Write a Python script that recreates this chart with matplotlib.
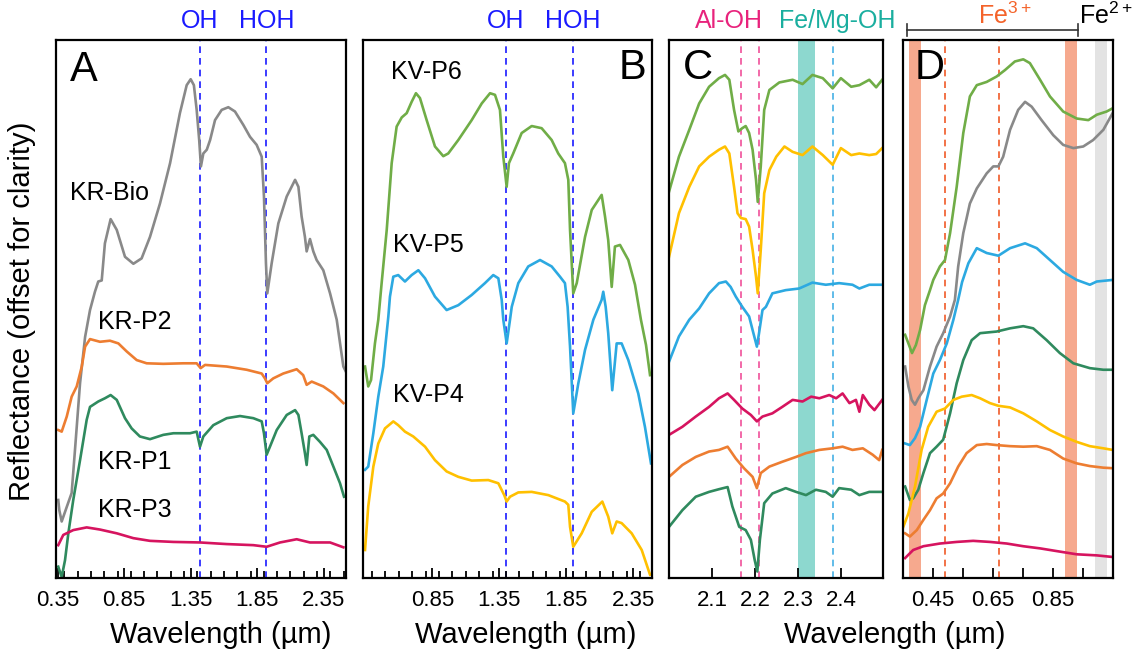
import numpy as np
import matplotlib
matplotlib.use("Agg")
import matplotlib.pyplot as plt
from matplotlib.ticker import MultipleLocator

plt.rcParams['font.family'] = ['Liberation Sans', 'DejaVu Sans']
plt.rcParams['mathtext.fontset'] = 'custom'
plt.rcParams['mathtext.rm'] = 'Liberation Sans'

# ---------------- panel A (VNIR-SWIR, KR samples) ----------------
bio_x = [0.354, 0.362, 0.380, 0.418, 0.455, 0.480, 0.518, 0.556, 0.593, 0.630, 0.655, 0.681, 0.705, 0.748,
         0.794, 0.856, 0.919, 0.981, 1.044, 1.119, 1.195, 1.269, 1.320, 1.350, 1.374, 1.395, 1.414, 1.427,
         1.445, 1.471, 1.496, 1.533, 1.583, 1.633, 1.683, 1.746, 1.796, 1.846, 1.884, 1.901, 1.916, 1.926,
         1.959, 2.009, 2.072, 2.135, 2.160, 2.184, 2.209, 2.222, 2.247, 2.272, 2.297, 2.347, 2.398, 2.448,
         2.498, 2.518]
bio_y = [14.5, 12.6, 10.5, 13.2, 15.8, 23.8, 36.2, 44.8, 49.8, 53.2, 55.1, 55.3, 62.2, 66.7,
         64.7, 59.7, 58.4, 59.4, 63.4, 69.6, 77.1, 86.4, 91.6, 92.7, 91.6, 87.0, 81.4, 76.5,
         78.9, 79.6, 81.4, 85.1, 87.0, 87.5, 86.7, 84.2, 82.0, 80.5, 78.3, 70.9, 58.5, 52.9,
         58.5, 65.9, 70.9, 74.0, 72.7, 67.2, 63.4, 60.7, 63.0, 60.7, 59.1, 57.2, 52.9, 48.0,
         39.3, 38.3]

p2_x = [0.354, 0.380, 0.418, 0.455, 0.493, 0.531, 0.556, 0.593, 0.668, 0.743, 0.806, 0.869, 0.944, 1.019,
        1.144, 1.294, 1.395, 1.425, 1.458, 1.621, 1.771, 1.884, 1.908, 1.926, 1.971, 2.046, 2.147, 2.196,
        2.222, 2.260, 2.347, 2.423, 2.498]
p2_y = [27.5, 27.2, 30.0, 33.7, 35.6, 39.3, 43.0, 44.4, 43.9, 44.1, 43.6, 42.1, 40.5, 39.9,
        39.8, 39.9, 39.9, 39.0, 39.6, 39.3, 38.7, 38.0, 37.1, 36.2, 37.1, 38.0, 38.8, 37.7,
        35.9, 36.5, 35.6, 34.3, 32.5]

p1_x = [0.354, 0.380, 0.405, 0.430, 0.467, 0.518, 0.568, 0.593, 0.655, 0.705, 0.748, 0.794, 0.856, 0.906,
        0.968, 1.044, 1.144, 1.220, 1.345, 1.395, 1.420, 1.445, 1.520, 1.621, 1.721, 1.821, 1.884, 1.901,
        1.921, 1.946, 1.997, 2.072, 2.135, 2.160, 2.184, 2.209, 2.222, 2.242, 2.272, 2.322, 2.373, 2.423,
        2.473, 2.503]
p1_y = [2.1, 0.2, 3.3, 8.3, 14.5, 21.9, 29.4, 31.8, 32.8, 33.4, 34.0, 33.1, 29.7, 27.8,
        26.3, 25.8, 26.6, 26.9, 26.9, 27.2, 24.4, 26.3, 28.4, 29.7, 30.1, 29.7, 29.1, 26.9,
        22.9, 24.4, 27.5, 30.3, 31.2, 30.3, 26.9, 23.2, 21.0, 26.3, 26.6, 25.3, 23.8, 20.7,
        17.6, 15.1]

p3_x = [0.354, 0.392, 0.467, 0.568, 0.668, 0.794, 0.919, 1.044, 1.220, 1.420, 1.621, 1.821, 1.921, 2.022,
        2.147, 2.247, 2.398, 2.498]
p3_y = [6.1, 8.0, 8.9, 9.4, 9.0, 8.3, 7.4, 6.9, 6.7, 6.6, 6.3, 6.1, 5.8, 6.6,
        7.2, 6.6, 6.6, 5.7]

# ---------------- panel B (KV samples) ----------------
p6_x = [0.348, 0.372, 0.393, 0.422, 0.447, 0.472, 0.510, 0.547, 0.584, 0.622, 0.659, 0.696, 0.728, 0.758,
        0.808, 0.870, 0.932, 0.969, 1.044, 1.144, 1.219, 1.281, 1.318, 1.355, 1.380, 1.405, 1.422, 1.454,
        1.517, 1.592, 1.666, 1.741, 1.790, 1.840, 1.865, 1.878, 1.902, 1.928, 1.990, 2.040, 2.114, 2.139,
        2.163, 2.189, 2.213, 2.251, 2.313, 2.363, 2.407, 2.445, 2.475]
p6_y = [39.3, 35.6, 36.8, 43.6, 48.0, 54.8, 64.7, 77.1, 83.9, 85.6, 86.4, 88.5, 90.1, 89.2,
        85.1, 80.2, 78.4, 78.9, 81.4, 85.1, 88.2, 90.1, 89.8, 87.0, 78.3, 72.7, 77.1, 78.9,
        82.7, 84.0, 83.6, 81.4, 78.9, 77.1, 74.0, 64.7, 52.9, 54.8, 63.4, 68.4, 71.2, 67.2,
        62.8, 54.1, 61.6, 61.9, 59.1, 54.5, 48.0, 43.3, 37.7]

p5_x = [0.348, 0.372, 0.410, 0.447, 0.484, 0.522, 0.534, 0.559, 0.596, 0.646, 0.696, 0.746, 0.796, 0.870,
        0.957, 1.044, 1.144, 1.243, 1.305, 1.343, 1.368, 1.380, 1.405, 1.430, 1.443, 1.492, 1.566, 1.654,
        1.741, 1.803, 1.840, 1.860, 1.878, 1.902, 1.940, 1.990, 2.052, 2.114, 2.126, 2.144, 2.163, 2.193,
        2.226, 2.263, 2.313, 2.387, 2.437, 2.482]
p5_y = [20.1, 20.7, 26.9, 33.7, 39.3, 48.6, 52.3, 56.0, 56.3, 55.1, 56.3, 57.2, 55.7, 52.3,
        49.8, 50.7, 52.6, 54.8, 56.3, 55.7, 51.7, 48.0, 43.6, 48.0, 50.4, 54.8, 57.9, 59.1,
        57.9, 56.0, 54.8, 50.4, 43.0, 30.6, 36.2, 42.4, 48.0, 51.7, 53.2, 50.4, 45.5, 34.9,
        43.6, 43.6, 40.5, 34.3, 28.1, 21.3]

p4_x = [0.348, 0.372, 0.410, 0.447, 0.497, 0.559, 0.596, 0.646, 0.708, 0.796, 0.870, 0.957, 1.044, 1.144,
        1.268, 1.343, 1.387, 1.405, 1.430, 1.492, 1.592, 1.716, 1.840, 1.865, 1.878, 1.902, 1.965, 2.040,
        2.119, 2.163, 2.193, 2.226, 2.263, 2.338, 2.413, 2.475]
p4_y = [5.2, 13.3, 20.7, 25.0, 27.8, 29.1, 28.4, 27.2, 26.3, 24.4, 21.9, 19.8, 18.8, 18.1,
        18.2, 17.6, 15.4, 14.2, 15.1, 15.9, 16.0, 15.4, 14.2, 13.6, 9.5, 5.8, 8.3, 12.3,
        14.2, 11.4, 8.3, 10.5, 10.2, 8.3, 5.2, 0.6]

# ---------------- panel C (2.0-2.5 um) ----------------
c_p6_x = [2.000, 2.023, 2.047, 2.070, 2.093, 2.116, 2.130, 2.140, 2.151, 2.161, 2.170, 2.178, 2.186, 2.194,
          2.202, 2.206, 2.213, 2.221, 2.233, 2.256, 2.287, 2.310, 2.333, 2.357, 2.380, 2.399, 2.423, 2.442,
          2.465, 2.481, 2.495]
c_p6_y = [71.8, 78.3, 83.3, 88.2, 91.3, 92.9, 93.5, 92.6, 87.0, 83.0, 83.6, 84.0, 82.7, 79.6,
          74.0, 69.9, 76.5, 87.0, 90.7, 92.1, 92.6, 91.8, 93.5, 92.9, 91.0, 92.9, 91.3, 91.6,
          92.6, 91.2, 92.6]

c_p4_x = [2.000, 2.023, 2.047, 2.070, 2.093, 2.116, 2.130, 2.140, 2.151, 2.159, 2.167, 2.178, 2.186, 2.194,
          2.202, 2.206, 2.213, 2.221, 2.233, 2.249, 2.268, 2.287, 2.310, 2.333, 2.357, 2.380, 2.399, 2.423,
          2.442, 2.465, 2.481, 2.495]
c_p4_y = [59.7, 67.8, 72.7, 76.5, 78.3, 79.6, 80.2, 78.9, 72.7, 67.8, 66.9, 66.7, 65.3, 61.0,
          56.0, 52.9, 61.0, 71.5, 75.8, 78.3, 80.2, 79.2, 78.6, 80.2, 78.6, 76.8, 79.9, 78.6,
          78.9, 78.6, 78.8, 79.9]

c_p5_x = [2.000, 2.023, 2.047, 2.070, 2.093, 2.116, 2.132, 2.143, 2.155, 2.170, 2.186, 2.194, 2.204, 2.209,
          2.217, 2.225, 2.240, 2.271, 2.302, 2.333, 2.364, 2.395, 2.426, 2.442, 2.465, 2.495]
c_p5_y = [40.2, 44.9, 48.0, 50.1, 52.9, 54.8, 55.1, 54.1, 52.3, 50.4, 48.6, 46.1, 43.0, 45.5,
          49.8, 50.4, 52.9, 53.5, 53.8, 54.9, 54.5, 54.8, 54.5, 53.8, 54.5, 54.5]

c_p3_x = [2.000, 2.031, 2.062, 2.093, 2.116, 2.136, 2.151, 2.170, 2.190, 2.204, 2.217, 2.240, 2.263, 2.287,
          2.310, 2.330, 2.349, 2.372, 2.388, 2.403, 2.419, 2.434, 2.442, 2.450, 2.465, 2.477, 2.495]
c_p3_y = [26.6, 28.1, 30.0, 31.8, 33.4, 34.3, 33.1, 31.5, 30.3, 29.1, 30.0, 30.6, 31.8, 33.1,
          32.8, 33.7, 33.4, 34.0, 33.4, 34.3, 32.5, 33.1, 30.9, 34.0, 32.2, 31.2, 33.1]

c_p2_x = [2.000, 2.031, 2.062, 2.093, 2.116, 2.136, 2.155, 2.174, 2.194, 2.204, 2.213, 2.233, 2.263, 2.295,
          2.318, 2.349, 2.380, 2.403, 2.426, 2.450, 2.473, 2.488, 2.495]
c_p2_y = [18.8, 21.0, 22.5, 23.5, 23.8, 24.4, 22.2, 20.4, 18.8, 16.7, 19.5, 20.7, 21.6, 22.5,
          23.2, 23.8, 24.1, 24.4, 23.8, 24.1, 22.9, 21.9, 23.8]

c_p1_x = [2.000, 2.031, 2.062, 2.093, 2.116, 2.136, 2.147, 2.163, 2.178, 2.190, 2.199, 2.205, 2.211, 2.221,
          2.240, 2.271, 2.295, 2.318, 2.341, 2.364, 2.380, 2.395, 2.423, 2.442, 2.465, 2.495]
c_p1_y = [9.5, 12.6, 15.1, 16.0, 16.5, 16.9, 13.3, 9.5, 8.9, 7.1, 3.3, 1.2, 7.1, 13.9,
          15.7, 16.7, 16.0, 15.4, 16.4, 16.0, 15.1, 16.7, 16.4, 15.4, 16.0, 16.0]

# ---------------- panel D (0.35-1.05 um) ----------------
d_p6_x = [0.357, 0.370, 0.380, 0.393, 0.407, 0.423, 0.440, 0.451, 0.473, 0.490, 0.507, 0.529, 0.551, 0.573,
          0.596, 0.629, 0.662, 0.690, 0.723, 0.751, 0.773, 0.807, 0.840, 0.884, 0.929, 0.968, 0.996, 1.029,
          1.049]
d_p6_y = [45.2, 43.3, 41.8, 43.3, 46.1, 50.7, 53.5, 55.4, 57.9, 59.1, 64.1, 72.7, 82.7, 89.5,
          91.6, 92.2, 93.2, 94.4, 96.0, 96.4, 95.7, 92.6, 89.5, 86.7, 85.4, 85.1, 86.1, 86.7,
          87.3]

d_bio_x = [0.357, 0.368, 0.379, 0.390, 0.401, 0.418, 0.440, 0.462, 0.484, 0.507, 0.523, 0.534, 0.551, 0.573,
           0.596, 0.629, 0.651, 0.668, 0.684, 0.707, 0.734, 0.757, 0.779, 0.812, 0.851, 0.884, 0.918, 0.951,
           0.984, 1.018, 1.049]
d_bio_y = [39.3, 35.6, 33.1, 32.2, 33.4, 34.9, 39.3, 43.0, 45.5, 48.6, 51.7, 57.9, 64.1, 69.6,
           72.4, 75.2, 76.5, 76.5, 78.3, 83.3, 87.0, 88.5, 87.6, 85.1, 82.3, 80.5, 79.9, 80.2,
           81.4, 83.3, 86.4]

d_p5_x = [0.357, 0.373, 0.390, 0.407, 0.429, 0.451, 0.473, 0.496, 0.518, 0.534, 0.547, 0.568, 0.596, 0.629,
          0.668, 0.707, 0.757, 0.796, 0.840, 0.884, 0.929, 0.973, 0.996, 1.049]
d_p5_y = [25.0, 24.7, 26.0, 28.1, 33.1, 38.0, 40.5, 43.6, 48.0, 51.7, 55.0, 58.5, 61.3, 60.4,
          59.9, 61.3, 62.2, 61.3, 59.1, 56.9, 55.4, 54.5, 55.1, 55.4]

d_p1_x = [0.357, 0.373, 0.384, 0.401, 0.418, 0.440, 0.462, 0.484, 0.507, 0.529, 0.551, 0.579, 0.607, 0.662,
          0.707, 0.751, 0.784, 0.829, 0.873, 0.918, 0.973, 1.018, 1.049]
d_p1_y = [17.0, 14.5, 14.8, 16.4, 19.5, 23.2, 24.4, 25.7, 30.6, 36.2, 40.5, 44.2, 45.5, 45.8,
          46.4, 46.8, 46.4, 44.2, 41.8, 39.9, 39.0, 38.7, 38.7]

d_p4_x = [0.351, 0.368, 0.390, 0.412, 0.434, 0.462, 0.490, 0.518, 0.546, 0.579, 0.607, 0.640, 0.668, 0.707,
          0.751, 0.796, 0.840, 0.884, 0.929, 0.973, 1.018, 1.049]
d_p4_y = [9.5, 12.0, 17.0, 23.8, 28.1, 30.9, 31.5, 33.1, 33.7, 34.0, 33.4, 32.5, 32.0, 31.7,
          30.6, 29.1, 27.5, 26.3, 25.3, 24.5, 24.1, 23.8]

d_p2_x = [0.357, 0.373, 0.396, 0.418, 0.440, 0.462, 0.484, 0.507, 0.534, 0.562, 0.596, 0.629, 0.662, 0.707,
          0.751, 0.796, 0.840, 0.884, 0.929, 0.973, 1.018, 1.049]
d_p2_y = [8.3, 7.7, 8.9, 10.8, 12.6, 14.8, 15.7, 17.6, 20.7, 23.2, 24.7, 24.9, 24.7, 24.5,
          24.4, 24.5, 23.8, 22.2, 21.3, 20.8, 20.5, 20.4]

d_p3_x = [0.357, 0.384, 0.418, 0.473, 0.529, 0.584, 0.640, 0.696, 0.751, 0.807, 0.862, 0.929, 0.996, 1.049]
d_p3_y = [3.7, 5.2, 5.9, 6.4, 6.7, 6.9, 6.7, 6.4, 5.9, 5.5, 5.0, 4.4, 4.2, 3.9]

# colours
GRAY = '#898989'
ORANGE = '#ED7D31'
DKGREEN = '#2F8A5E'
LTGREEN = '#70AD47'
BLUE = '#2CA9E1'
YELLOW = '#FFC000'
CRIMSON = '#D6145F'
LINEBLUE = '#1A1AFF'

fig = plt.figure(figsize=(11.33, 6.55), dpi=100)
axA = fig.add_axes([0.0494, 0.1176, 0.2560, 0.8214])
axB = fig.add_axes([0.3204, 0.1176, 0.2551, 0.8214])
axC = fig.add_axes([0.5905, 0.1176, 0.1889, 0.8214])
axD = fig.add_axes([0.7970, 0.1176, 0.1853, 0.8214])


def style(ax):
    for s in ax.spines.values():
        s.set_linewidth(1.6)
    ax.set_ylim(0, 100)
    ax.set_yticks([])
    ax.tick_params(axis='x', direction='in', length=7, width=1.3, labelsize=16, pad=9, top=False)
    ax.tick_params(axis='x', which='minor', direction='in', length=5, width=1.3, top=False)


lw = 1.9
# A
axA.plot(bio_x, bio_y, color=GRAY, lw=lw)
axA.plot(p2_x, p2_y, color=ORANGE, lw=lw)
axA.plot(p1_x, p1_y, color=DKGREEN, lw=lw)
axA.plot(p3_x, p3_y, color=CRIMSON, lw=lw)
axA.set_xlim(0.337, 2.518)
axA.set_xticks([0.35, 0.85, 1.35, 1.85, 2.35])
axA.xaxis.set_minor_locator(MultipleLocator(0.1))
for xv in [1.42, 1.92]:
    axA.axvline(xv, color=LINEBLUE, ls=(0, (4, 3)), lw=1.2, zorder=0)
style(axA)
axA.text(0.048, 0.944, 'A', transform=axA.transAxes, fontsize=30, va='center', ha='left')
for lab, xv, yv in [('KR-Bio', 0.443, 71.6), ('KR-P2', 0.653, 47.6), ('KR-P1', 0.653, 21.6), ('KR-P3', 0.653, 12.6)]:
    axA.text(xv, yv, lab, fontsize=18, va='center', ha='left')

# B
axB.plot(p6_x, p6_y, color=LTGREEN, lw=lw)
axB.plot(p5_x, p5_y, color=BLUE, lw=lw)
axB.plot(p4_x, p4_y, color=YELLOW, lw=lw)
axB.set_xlim(0.333, 2.49)
axB.set_xticks([0.85, 1.35, 1.85, 2.35])
axB.xaxis.set_minor_locator(MultipleLocator(0.1))
for xv in [1.40, 1.90]:
    axB.axvline(xv, color=LINEBLUE, ls=(0, (4, 3)), lw=1.2, zorder=0)
style(axB)
axB.text(0.931, 0.948, 'B', transform=axB.transAxes, fontsize=30, va='center', ha='center')
for lab, xv, yv in [('KV-P6', 0.542, 94.1), ('KV-P5', 0.557, 61.9), ('KV-P4', 0.557, 34.0)]:
    axB.text(xv, yv, lab, fontsize=18, va='center', ha='left')

# top OH / HOH labels
for ax, xs in [(axA, [1.42, 1.92]), (axB, [1.40, 1.90])]:
    tr = ax.get_xaxis_transform()
    ax.text(xs[0], 1.036, 'OH', transform=tr, color=LINEBLUE, fontsize=18, ha='center', va='center')
    ax.text(xs[1], 1.036, 'HOH', transform=tr, color=LINEBLUE, fontsize=18, ha='center', va='center')

# C
axC.axvspan(2.299, 2.338, color='#8DD8CF', lw=0, zorder=0)
for xv in [2.166, 2.208]:
    axC.axvline(xv, color='#F0509A', ls=(0, (4, 3)), lw=1.2, zorder=0)
axC.axvline(2.380, color='#45B0E5', ls=(0, (4, 3)), lw=1.2, zorder=0)
axC.plot(c_p6_x, c_p6_y, color=LTGREEN, lw=lw)
axC.plot(c_p4_x, c_p4_y, color=YELLOW, lw=lw)
axC.plot(c_p5_x, c_p5_y, color=BLUE, lw=lw)
axC.plot(c_p3_x, c_p3_y, color=CRIMSON, lw=lw)
axC.plot(c_p2_x, c_p2_y, color=ORANGE, lw=lw)
axC.plot(c_p1_x, c_p1_y, color=DKGREEN, lw=lw)
axC.set_xlim(2.0, 2.497)
axC.set_xticks([2.1, 2.2, 2.3, 2.4])
style(axC)
axC.text(0.136, 0.948, 'C', transform=axC.transAxes, fontsize=30, va='center', ha='center')
trC = axC.get_xaxis_transform()
axC.text(2.138, 1.036, 'Al-OH', transform=trC, color='#E8237C', fontsize=18, ha='center', va='center')
axC.text(2.39, 1.036, 'Fe/Mg-OH', transform=trC, color='#1AAE9F', fontsize=18, ha='center', va='center',
         clip_on=False)

# D
axD.axvspan(0.37, 0.41, color='#F6A98E', lw=0, zorder=0)
axD.axvspan(0.89, 0.93, color='#F6A98E', lw=0, zorder=0)
axD.axvspan(0.99, 1.03, color='#E3E3E3', lw=0, zorder=0)
for xv in [0.49, 0.67]:
    axD.axvline(xv, color='#F05A28', ls=(0, (4, 3)), lw=1.2, zorder=0)
axD.plot(d_p6_x, d_p6_y, color=LTGREEN, lw=lw)
axD.plot(d_bio_x, d_bio_y, color=GRAY, lw=lw)
axD.plot(d_p5_x, d_p5_y, color=BLUE, lw=lw)
axD.plot(d_p1_x, d_p1_y, color=DKGREEN, lw=lw)
axD.plot(d_p4_x, d_p4_y, color=YELLOW, lw=lw)
axD.plot(d_p2_x, d_p2_y, color=ORANGE, lw=lw)
axD.plot(d_p3_x, d_p3_y, color=CRIMSON, lw=lw)
axD.set_xlim(0.35, 1.05)
axD.set_xticks([0.45, 0.55, 0.65, 0.75, 0.85, 0.95])
axD.set_xticklabels(['0.45', '', '0.65', '', '0.85', ''])
style(axD)
axD.text(0.129, 0.948, 'D', transform=axD.transAxes, fontsize=30, va='center', ha='center')
trD = axD.get_xaxis_transform()
axD.plot([0.363, 0.933], [1.019, 1.019], transform=trD, color='#333333', lw=1.2, clip_on=False)
for xv in [0.363, 0.933]:
    axD.plot([xv, xv], [1.008, 1.030], transform=trD, color='#333333', lw=1.2, clip_on=False)
axD.text(0.69, 1.044, r'Fe$^{3+}$', transform=trD, color='#F4632A', fontsize=18, ha='center', va='center')
axD.text(0.938, 1.044, r'Fe$^{2+}$', transform=trD, color='black', fontsize=18, ha='left', va='center')

# shared labels
fig.text(0.0194, 0.524, 'Reflectance (offset for clarity)', rotation=90, fontsize=21, ha='center', va='center')
fig.text(0.195, 0.031, 'Wavelength (µm)', fontsize=21, ha='center', va='center')
fig.text(0.464, 0.031, 'Wavelength (µm)', fontsize=21, ha='center', va='center')
fig.text(0.790, 0.031, 'Wavelength (µm)', fontsize=21, ha='center', va='center')

fig.savefig('out.png', dpi=100)
